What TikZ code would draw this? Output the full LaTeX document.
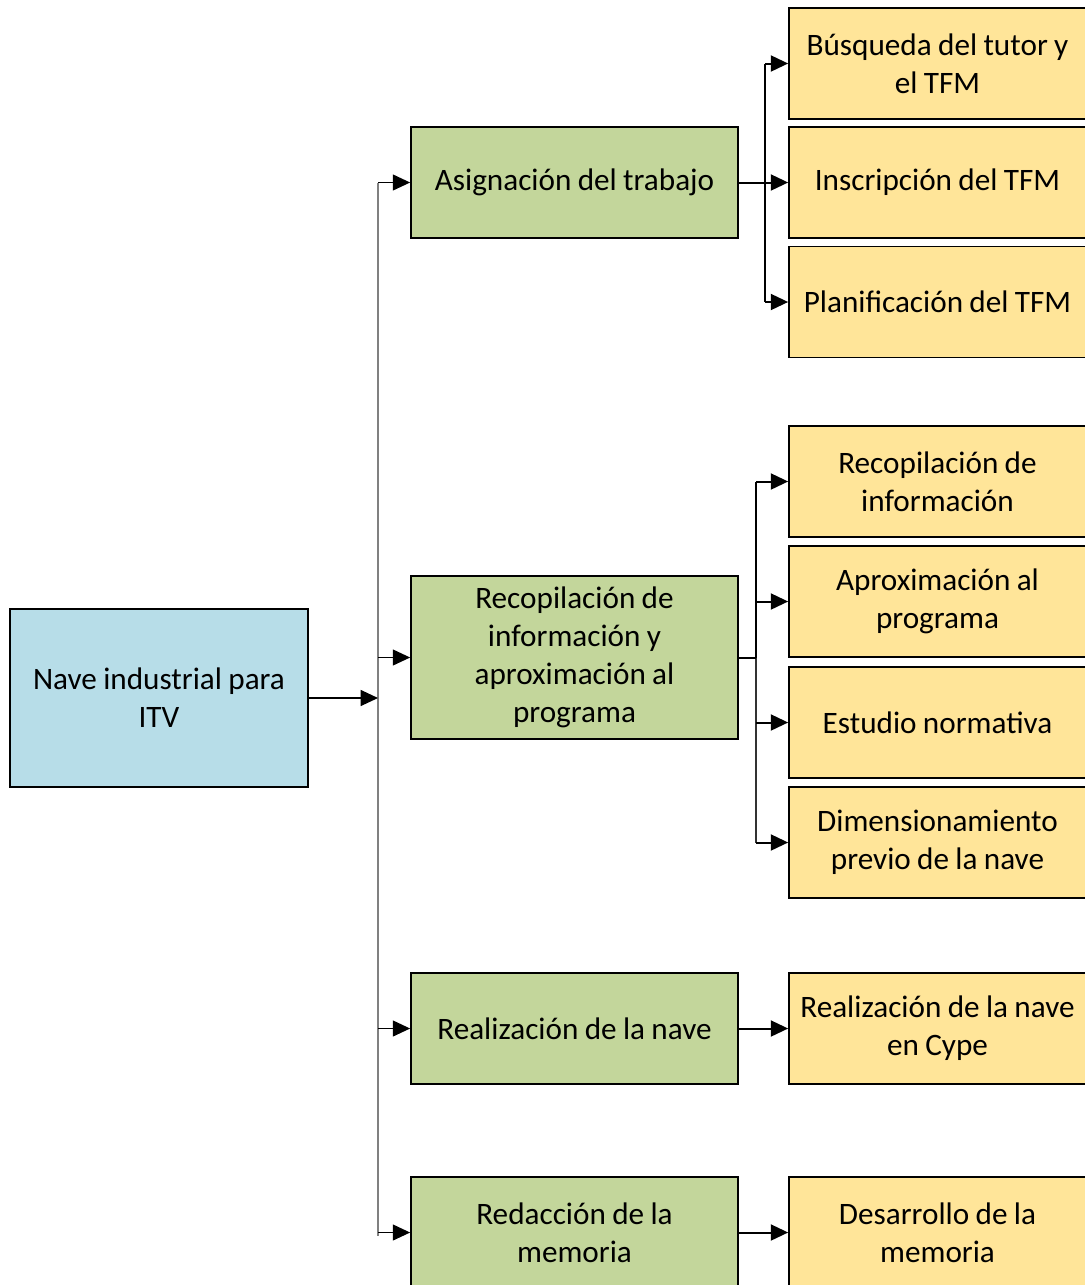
\documentclass[tikz,border=0pt]{standalone}
\usepackage{fontspec}
\setmainfont{Carlito}[WordSpace=0.9]
\usetikzlibrary{arrows.meta}
\definecolor{rootblue}{RGB}{183,221,232}
\definecolor{boxgreen}{RGB}{195,214,155}
\definecolor{boxyellow}{RGB}{255,229,153}
\definecolor{busgray}{RGB}{128,128,128}
\tikzset{
  base/.style={draw=black, line width=1.3pt, align=center, inner sep=2pt,
    font=\fontsize{23.4pt}{28.5pt}\selectfont},
  rootbox/.style={base, fill=rootblue, minimum width=223.5pt, minimum height=133.5pt},
  gbox/.style={base, fill=boxgreen, minimum width=245.25pt, minimum height=83.25pt},
  ybox/.style={base, fill=boxyellow, minimum width=222.75pt, minimum height=83.25pt},
  tip/.style={-{Triangle[length=13pt,width=12pt]}},
  thickarr/.style={tip, line width=1.5pt},
  thinarr/.style={tip, line width=0.9pt},
  busline/.style={busgray, line width=1.5pt},
  blkline/.style={black, line width=1.5pt}
}
\begin{document}
\begin{tikzpicture}[x=0.75pt,y=-0.75pt]
\useasboundingbox (0,0) rectangle (1085,1285);
\clip (0,0) rectangle (1085,1285);
\node[rootbox] (root) at (159,698) {Nave industrial para\\ITV};
\node[gbox] (g1) at (574.5,182.5) {Asignación del trabajo};
\node[gbox, minimum height=122.25pt] (g2) at (574.5,657.5) {Recopilación de\\información y\\aproximación al\\programa};
\node[gbox] (g3) at (574.5,1028.5) {Realización de la nave};
\node[gbox] (g4) at (574.5,1232.5) {Redacción de la\\memoria};
\node[ybox] (y1) at (937.5,63.5) {Búsqueda del tutor y\\el TFM};
\node[ybox] (y2) at (937.5,182.5) {Inscripción del TFM};
\node[ybox] (y3) at (937.5,302) {Planificación del TFM};
\node[ybox] (y4) at (937.5,481.5) {Recopilación de\\información};
\node[ybox] (y5) at (937.5,601.5) {Aproximación al\\programa};
\node[ybox] (y6) at (937.5,722.5) {Estudio normativa};
\node[ybox] (y7) at (937.5,842.5) {Dimensionamiento\\previo de la nave};
\node[ybox] (y8) at (937.5,1028.5) {Realización de la nave\\en Cype};
\node[ybox] (y9) at (937.5,1232.5) {Desarrollo de la\\memoria};
% main bus
\coordinate (bus) at (378,0);
\draw[busline] (bus |- g1) -- (378,1236);
\draw[thinarr] (root.east) -- (root.east -| bus);
\foreach \g in {g1,g2,g3,g4} \draw[thinarr] (bus |- \g) -- (\g.west);
% branch of g1
\coordinate (b1) at (765,0);
\draw[blkline] (b1 |- y1) -- (b1 |- y3);
\draw[blkline] (g1.east) -- (b1 |- g1);
\foreach \y in {y1,y2,y3} \draw[thickarr] (b1 |- \y) -- (\y.west);
% branch of g2
\coordinate (b2) at (756,0);
\draw[blkline] (b2 |- y4) -- (b2 |- g2);
\draw[blkline, black!80] (b2 |- g2) -- (b2 |- y7);
\draw[blkline] (g2.east) -- (b2 |- g2);
\foreach \y in {y4,y5,y6,y7} \draw[thickarr] (b2 |- \y) -- (\y.west);
% direct
\draw[thickarr] (g3.east) -- (y8.west);
\draw[thickarr] (g4.east) -- (y9.west);
\end{tikzpicture}
\end{document}
